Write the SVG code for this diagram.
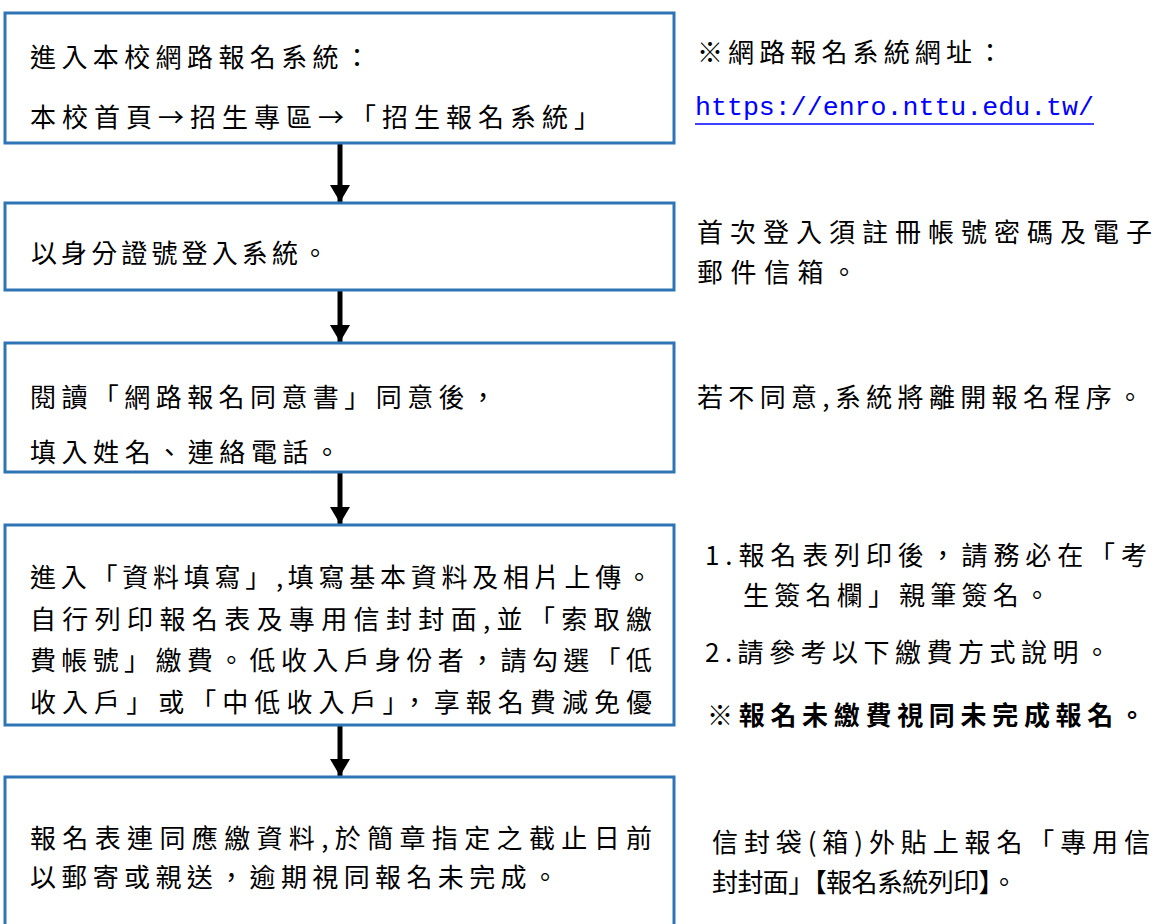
<svg xmlns="http://www.w3.org/2000/svg" width="1158" height="924" viewBox="0 0 1158 924">
<style>
.box{fill:#ffffff;stroke:#2e75b6;stroke-width:3}
.t{font-family:"Noto Sans CJK TC","Noto Sans CJK SC",sans-serif;font-size:26px;fill:#000;dominant-baseline:central}
.b{font-weight:700}
.url{font-family:"Liberation Mono","DejaVu Sans Mono",monospace;font-size:26.6px;fill:#0000ff;dominant-baseline:central}
.shaft{stroke:#000;stroke-width:5}
</style>
<defs>
<marker id="ah" markerWidth="4" markerHeight="4" refX="3.4" refY="2" orient="auto" markerUnits="strokeWidth">
<path d="M0,0 L3.4,2 L0,4 Z" fill="#000"/>
</marker>
</defs>
<rect width="1158" height="924" fill="#fff"/>
<g id="connectors">
<line class="shaft" x1="340" y1="143" x2="340" y2="202" marker-end="url(#ah)"/>
<line class="shaft" x1="340" y1="290" x2="340" y2="342" marker-end="url(#ah)"/>
<line class="shaft" x1="340" y1="472" x2="340" y2="524" marker-end="url(#ah)"/>
<line class="shaft" x1="340" y1="725" x2="340" y2="776" marker-end="url(#ah)"/>
</g>
<g id="node1">
<rect class="box" x="5" y="13" width="669" height="130"/>
<text class="t" x="30" y="55" textLength="340" lengthAdjust="spacing">進入本校網路報名系統：</text>
<text class="t" x="30" y="115" textLength="570" lengthAdjust="spacing">本校首頁→招生專區→「招生報名系統」</text>
</g>
<g id="node2">
<rect class="box" x="5" y="203" width="669" height="87"/>
<text class="t" x="31" y="251" textLength="297" lengthAdjust="spacing">以身分證號登入系統。</text>
</g>
<g id="node3">
<rect class="box" x="5" y="343" width="669" height="129"/>
<text class="t" x="30" y="395" textLength="466" lengthAdjust="spacing">閱讀「網路報名同意書」同意後，</text>
<text class="t" x="30" y="450" textLength="310" lengthAdjust="spacing">填入姓名、連絡電話。</text>
</g>
<g id="node4">
<rect class="box" x="5" y="525" width="669" height="200"/>
<text class="t" x="30" y="575" textLength="622" lengthAdjust="spacing">進入「資料填寫」,填寫基本資料及相片上傳。</text>
<text class="t" x="30" y="617" textLength="622" lengthAdjust="spacing">自行列印報名表及專用信封封面,並「索取繳</text>
<text class="t" x="30" y="658" textLength="622" lengthAdjust="spacing">費帳號」繳費。低收入戶身份者，請勾選「低</text>
<text class="t" x="30" y="700" textLength="622" lengthAdjust="spacing">收入戶」或「中低收入戶」，享報名費減免優</text>
</g>
<g id="node5">
<rect class="box" x="5" y="777" width="669" height="160"/>
<text class="t" x="30" y="836" textLength="622" lengthAdjust="spacing">報名表連同應繳資料,於簡章指定之截止日前</text>
<text class="t" x="30" y="875" textLength="528" lengthAdjust="spacing">以郵寄或親送，逾期視同報名未完成。</text>
</g>
<g id="notes">
<text class="t" x="697" y="50" textLength="306" lengthAdjust="spacing">※網路報名系統網址：</text>
<text class="url" x="695" y="108" textLength="399" lengthAdjust="spacing">https://enro.nttu.edu.tw/</text>
<line x1="695" y1="124" x2="1094" y2="124" stroke="#0000ff" stroke-width="1.5"/>
<text class="t" x="697" y="230" textLength="455" lengthAdjust="spacing">首次登入須註冊帳號密碼及電子</text>
<text class="t" x="697" y="270" textLength="160" lengthAdjust="spacing">郵件信箱。</text>
<text class="t" x="697" y="395" textLength="446" lengthAdjust="spacing">若不同意,系統將離開報名程序。</text>
<text class="t" x="705" y="553" textLength="442" lengthAdjust="spacing">1.報名表列印後，請務必在「考</text>
<text class="t" x="743" y="593" textLength="307" lengthAdjust="spacing">生簽名欄」親筆簽名。</text>
<text class="t" x="705" y="650" textLength="405" lengthAdjust="spacing">2.請參考以下繳費方式說明。</text>
<text class="t b" x="707" y="713" textLength="438" lengthAdjust="spacing">※報名未繳費視同未完成報名。</text>
<text class="t" x="712" y="840" textLength="438" lengthAdjust="spacing">信封袋(箱)外貼上報名「專用信</text>
<text class="t" x="712" y="880" textLength="305" lengthAdjust="spacing">封封面」【報名系統列印】。</text>
</g>
</svg>
